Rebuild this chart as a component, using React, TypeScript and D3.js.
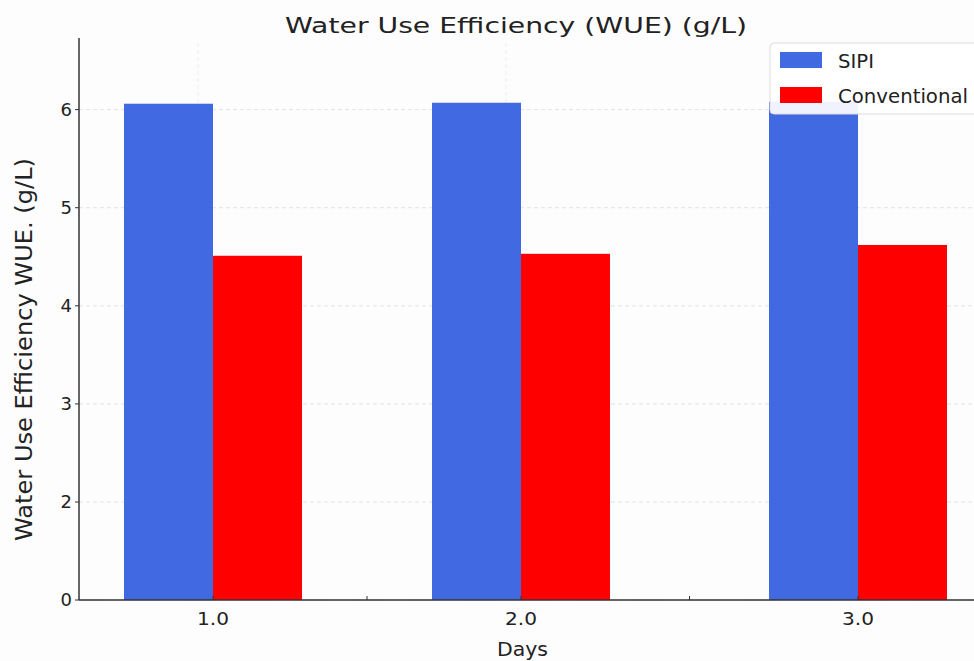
import React, { useEffect } from 'react';
import * as d3 from 'd3';

// Data
const days = [1.0, 2.0, 3.0];
const dayLabels = ['1.0', '2.0', '3.0'];
const minorDays = [1.5, 2.5];
const sipi = [6.06, 6.07, 6.08];
const conventional = [4.51, 4.53, 4.62];
const yTicks = [0, 2, 3, 4, 5, 6];

const series = [
  { name: 'SIPI', color: '#4169E1', values: sipi, side: -1, labelLen: 36 },
  { name: 'Conventional', color: '#FF0000', values: conventional, side: 0, labelLen: 130 },
];

const W = 974;
const H = 661;
const font = '"DejaVu Sans", Verdana, sans-serif';

const App: React.FC = () => {
  useEffect(() => {
    document.body.style.margin = '0';
    document.body.style.overflow = 'hidden';
  }, []);

  const left = 79;
  const bottom = 600;
  const top = 38;
  const barW = 89;

  // the source image is unevenly stretched, so piecewise scales are used
  const x = d3.scaleLinear().domain([1, 2, 3]).range([213, 521, 858]);
  const y = d3.scaleLinear().domain([0, 2, 6.73]).range([bottom, 502, top]);

  return (
    <svg width={W} height={H} viewBox={`0 0 ${W} ${H}`} style={{ display: 'block', fontFamily: font }}>
      <rect width={W} height={H} fill="#fdfdfd" />

      {/* grid */}
      {yTicks.map(t => (
        <line key={'gy' + t} x1={left} x2={W} y1={y(t)} y2={y(t)}
          stroke="#e3e3e3" strokeWidth={1} strokeDasharray="4,3" />
      ))}
      {days.map(d => (
        <line key={'gx' + d} x1={x(d) - 15} x2={x(d) - 15} y1={top + 5} y2={bottom}
          stroke="#ececec" strokeWidth={1} strokeDasharray="4,3" />
      ))}

      {/* bars */}
      {series.map(s => (
        <g key={s.name}>
          {s.values.map((v, i) => (
            <rect key={i}
              x={x(days[i]) + s.side * barW}
              y={y(v)}
              width={barW}
              height={y(0) - y(v)}
              fill={s.color} />
          ))}
        </g>
      ))}

      {/* axes */}
      <line x1={left} x2={left} y1={top} y2={bottom} stroke="#333" strokeWidth={1.5} />
      <line x1={left} x2={W} y1={bottom} y2={bottom} stroke="#333" strokeWidth={1.5} />

      {yTicks.map(t => (
        <g key={'ty' + t}>
          <line x1={left - 4} x2={left} y1={y(t)} y2={y(t)} stroke="#333" strokeWidth={1} />
          <text x={left - 7} y={y(t)} dy="0.36em" textAnchor="end" fontSize={18} fill="#222">{t}</text>
        </g>
      ))}
      {days.map((d, i) => (
        <g key={'tx' + d}>
          <line x1={x(d)} x2={x(d)} y1={bottom} y2={bottom - 4} stroke="#333" strokeWidth={1} />
          <text x={x(d) - 16} y={625} fontSize={18} fill="#222"
            textLength={32} lengthAdjust="spacingAndGlyphs">{dayLabels[i]}</text>
        </g>
      ))}
      {minorDays.map(d => (
        <line key={'mx' + d} x1={x(d)} x2={x(d)} y1={bottom} y2={bottom - 4} stroke="#333" strokeWidth={1} />
      ))}

      {/* labels */}
      <text x={285} y={33} fontSize={22} fill="#222"
        textLength={462} lengthAdjust="spacingAndGlyphs">Water Use Efficiency (WUE) (g/L)</text>
      <text x={497} y={656} fontSize={20} fill="#222"
        textLength={51} lengthAdjust="spacingAndGlyphs">Days</text>
      <text transform={`translate(32, 541) rotate(-90)`} fontSize={23} fill="#222"
        textLength={383} lengthAdjust="spacingAndGlyphs">
        Water Use Efficiency WUE. (g/L)
      </text>

      {/* legend */}
      <g transform="translate(770, 43)">
        <rect x={0} y={0} width={230} height={71} rx={4} fill="#fff" fillOpacity={0.92} stroke="#dcdcdc" />
        {series.map((s, i) => (
          <g key={'lg' + s.name} transform={`translate(10, ${9 + i * 35})`}>
            <rect width={42} height={16} fill={s.color} />
            <text x={58} y={16} fontSize={20} fill="#222"
              textLength={s.labelLen} lengthAdjust="spacingAndGlyphs">{s.name}</text>
          </g>
        ))}
      </g>
    </svg>
  );
};

export default App;
